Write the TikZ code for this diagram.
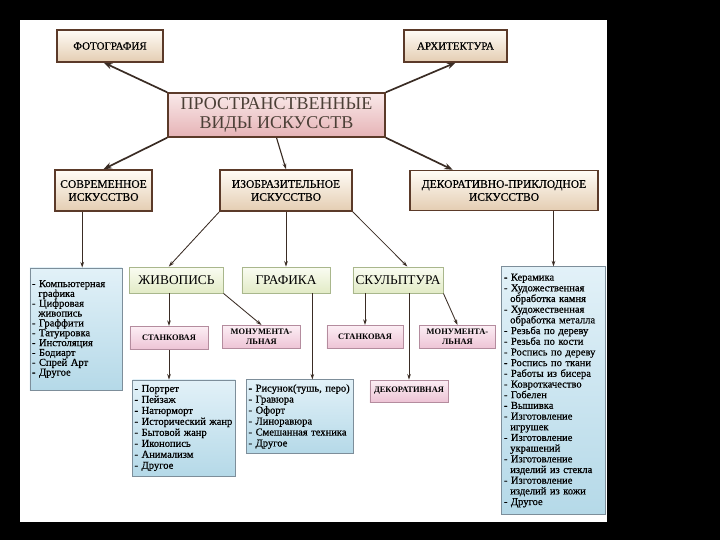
\documentclass[tikz,border=0pt]{standalone}
\usepackage{fontspec}
\setmainfont{Liberation Serif}
\newfontfamily\heavyserif[FakeBold=0.6]{Liberation Serif}
\usetikzlibrary{arrows.meta}
\definecolor{boxbrown}{HTML}{5B3A29}
\definecolor{beigetop}{HTML}{FFFCF6}
\definecolor{beigebot}{HTML}{E4CDB2}
\definecolor{rosetop}{HTML}{F9E9E9}
\definecolor{rosebot}{HTML}{E6B3B6}
\definecolor{bluetop}{HTML}{E2F1F8}
\definecolor{bluebot}{HTML}{B5D9E8}
\definecolor{blueline}{HTML}{7D8E9A}
\definecolor{greentop}{HTML}{FAFCF2}
\definecolor{greenbot}{HTML}{E2EBC6}
\definecolor{greenline}{HTML}{A9B78C}
\definecolor{pinktop}{HTML}{FCEEF4}
\definecolor{pinkbot}{HTML}{EDC3D5}
\definecolor{pinkline}{HTML}{B48C9E}
\definecolor{titletext}{HTML}{4B3F36}
\definecolor{linkcol}{HTML}{3A2C24}
\begin{document}
\begin{tikzpicture}[x=0.025cm,y=-0.025cm,kind node/.style={draw=boxbrown, line width=1pt, top color=beigetop, bottom color=beigebot, align=center, inner sep=0pt, font=\heavyserif\fontsize{8.2}{9.2}\selectfont},title node/.style={draw=boxbrown, line width=1pt, top color=rosetop, bottom color=rosebot, align=center, inner sep=0pt, text=titletext, font=\fontsize{12.8}{14}\selectfont},list node/.style={draw=blueline, line width=0.6pt, top color=bluetop, bottom color=bluebot, align=left, inner xsep=0.05cm, inner ysep=0pt, font=\heavyserif\fontsize{7.5}{7.6}\selectfont},genre node/.style={draw=greenline, line width=0.6pt, top color=greentop, bottom color=greenbot, align=center, inner sep=0pt, font=\fontsize{9.5}{11}\selectfont},sub node/.style={draw=pinkline, line width=0.6pt, top color=pinktop, bottom color=pinkbot, align=center, inner sep=0pt, font=\bfseries\fontsize{6}{6.8}\selectfont},main link/.style={draw=linkcol, line width=1.2pt, -{Stealth[length=6pt,width=4.5pt]}},link/.style={draw=linkcol, line width=0.6pt, -{Stealth[length=4pt,width=2.6pt]}}]%
\fill[black] (0,0) rectangle (720,540);%
\fill[white] (20,20) rectangle (607,522);%
  % Top%
\node[title node, minimum width=5.43cm, minimum height=1.10cm] (main) at (276.5,115) {ПРОСТРАНСТВЕННЫЕ\\ВИДЫ ИСКУССТВ};%
\node[kind node, minimum width=2.65cm, minimum height=0.80cm, font=\heavyserif\fontsize{7.8}{9}\selectfont] (photo) at (110,46) {ФОТОГРАФИЯ};%
\node[kind node, minimum width=2.58cm, minimum height=0.80cm, font=\heavyserif\fontsize{7.8}{9}\selectfont] (arch) at (455.5,46) {АРХИТЕКТУРА};%
  % Kinds%
\node[kind node, minimum width=2.43cm, minimum height=1.03cm] (modern) at (103.5,190.5) {СОВРЕМЕННОЕ\\ИСКУССТВО};%
\node[kind node, minimum width=3.30cm, minimum height=1.03cm] (fine) at (286,190.5) {ИЗОБРАЗИТЕЛЬНОЕ\\ИСКУССТВО};%
\node[kind node, minimum width=4.70cm, minimum height=1.00cm] (decor) at (504,190.5) {ДЕКОРАТИВНО-ПРИКЛОДНОЕ\\ИСКУССТВО};%
  % Genres%
\node[genre node, minimum width=2.33cm, minimum height=0.65cm] (painting) at (176.5,280) {ЖИВОПИСЬ};%
\node[genre node, minimum width=2.20cm, minimum height=0.65cm] (graphics) at (286,280) {ГРАФИКА};%
\node[genre node, minimum width=2.25cm, minimum height=0.65cm] (sculpture) at (398,280) {СКУЛЬПТУРА};%
\node[sub node, minimum width=1.95cm, minimum height=0.58cm] (pst) at (169,338) {СТАНКОВАЯ};%
\node[sub node, minimum width=1.93cm, minimum height=0.58cm] (pmon) at (261.5,337) {МОНУМЕНТА-\\ЛЬНАЯ};%
\node[sub node, minimum width=1.90cm, minimum height=0.58cm] (sst) at (365,337) {СТАНКОВАЯ};%
\node[sub node, minimum width=1.88cm, minimum height=0.58cm] (smon) at (457.5,337) {МОНУМЕНТА-\\ЛЬНАЯ};%
\node[sub node, minimum width=1.95cm, minimum height=0.55cm] (sdec) at (409,391) {ДЕКОРАТИВНАЯ};%
  % Lists%
\node[list node, minimum width=2.30cm, minimum height=3.05cm, text width=2.20cm, font=\heavyserif\fontsize{7.5}{7}\selectfont] (modlist) at (76,329) {- Компьютерная\\\hspace*{0.6em}графика\\- Цифровая\\\hspace*{0.6em}живопись\\- Граффити\\- Татуировка\\- Инстоляция\\- Бодиарт\\- Спрей Арт\\- Другое\\[6pt]};%
\node[list node, minimum width=2.55cm, minimum height=2.40cm, text width=2.47cm, font=\heavyserif\fontsize{7.5}{7.8}\selectfont] (plist) at (184,428) {- Портрет\\- Пейзаж\\- Натюрморт\\- Исторический жанр\\- Бытовой жанр\\- Иконопись\\- Анимализм\\- Другое};%
\node[list node, minimum width=2.65cm, minimum height=1.83cm, text width=2.57cm, font=\heavyserif\fontsize{7.5}{7.8}\selectfont] (glist) at (300,416.5) {- Рисунок(тушь, перо)\\- Гравюра\\- Офорт\\- Линоравюра\\- Смешанная техника\\- Другое};%
\node[list node, minimum width=2.58cm, minimum height=6.18cm, text width=2.48cm] (dlist) at (553.5,390.5) {- Керамика\\- Художественная\\\hspace*{0.6em}обработка камня\\- Художественная\\\hspace*{0.6em}обработка металла\\- Резьба по дереву\\- Резьба по кости\\- Роспись по дереву\\- Роспись по ткани\\- Работы из бисера\\- Ковроткачество\\- Гобелен\\- Вышивка\\- Изготовление\\\hspace*{0.6em}игрушек\\- Изготовление\\\hspace*{0.6em}украшений\\- Изготовление\\\hspace*{0.6em}изделий из стекла\\- Изготовление\\\hspace*{0.6em}изделий из кожи\\- Другое};%
  % Links%
\draw[main link] (main.north west) -- (photo.250);%
\draw[main link] (main.north east) -- (arch.south);%
\draw[main link] (main.south west) -- (modern.north);%
\draw[main link] (main.south east) -- (decor.158.5);%
\draw[link, line width=0.8pt] (main.south) -- (fine.north);%
\draw[link] (modern.225) -- (modern.225 |- modlist.north);%
\draw[link] (fine.south west) -- (painting.120);%
\draw[link] (fine.south) -- (graphics.north);%
\draw[link] (fine.south east) -- (sculpture.55);%
\draw[link] (decor.south -| dlist.north) -- (dlist.north);%
\draw[link] (painting.south -| pst.north) -- (pst.north);%
\draw[link] (painting.south east) -- (pmon.north);%
\draw[link] (pst.south) -- (pst.south |- plist.north);%
\draw[link] (graphics.-27.5) -- (graphics.-27.5 |- glist.north);%
\draw[link] (sculpture.south -| sst.north) -- (sst.north);%
\draw[link] (sculpture.south -| sdec.north) -- (sdec.north);%
\draw[link] (sculpture.south east) -- (smon.north);%
\path[use as bounding box] (0,0) rectangle (720,540);%
\end{tikzpicture}
\end{document}
